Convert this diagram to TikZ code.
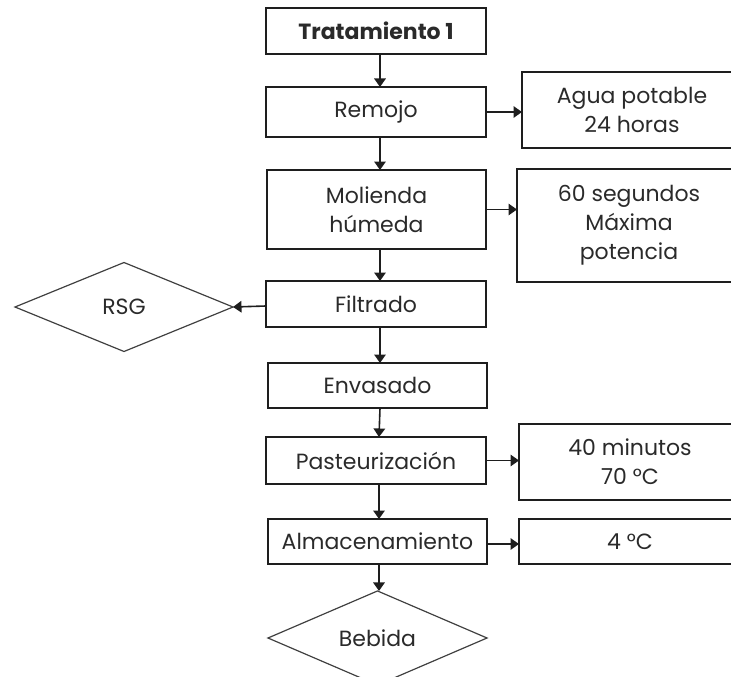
\documentclass[tikz,border=0pt]{standalone}
\usepackage{fontspec}
\setmainfont{Poppins}
\usetikzlibrary{shapes.geometric,arrows.meta}
\definecolor{ink}{HTML}{1E1E1E}
\definecolor{txt}{HTML}{2A2A2A}
\begin{document}
\begin{tikzpicture}[x=1pt,y=-1pt,
  every node/.style={inner sep=0pt,outer sep=0pt,text=txt,
    font=\fontsize{22}{29}\selectfont,align=center},
  stepbox/.style={draw=ink,line width=1.6pt,rectangle},
  infobox/.style={draw=ink,line width=1.6pt,rectangle},
  endpoint/.style={draw=ink!85,line width=1.2pt,diamond},
  flow/.style={draw=ink,line width=1.6pt,-{Triangle[length=8.5pt,width=11.5pt]}},
  down/.style={flow,xshift=3.5pt}]
\useasboundingbox (0,0) rectangle (731,677);
% main column
\node[stepbox,minimum width=220pt,minimum height=46pt,font=\fontsize{22}{29}\selectfont\bfseries] (t1) at (376,31) {Tratamiento 1};
\node[stepbox,minimum width=220pt,minimum height=50pt] (rem) at (376,112) {Remojo};
\node[stepbox,minimum width=219pt,minimum height=79pt] (mol) at (376.5,209.5) {Molienda\\húmeda};
\node[stepbox,minimum width=220pt,minimum height=46pt] (fil) at (376,304) {Filtrado};
\node[stepbox,minimum width=219pt,minimum height=45pt] (env) at (377.5,385.5) {Envasado};
\node[stepbox,minimum width=220pt,minimum height=47pt] (pas) at (376,460.5) {Pasteurización};
\node[stepbox,minimum width=219pt,minimum height=45pt] (alm) at (377.5,541.5) {Almacenamiento};
\node[endpoint,minimum width=219pt,minimum height=76pt] (beb) at (377.5,638) {Bebida};
% side conditions
\node[infobox,minimum width=220pt,minimum height=76pt] (agua) at (632,110) {Agua potable\\24 horas};
\node[infobox,minimum width=224pt,minimum height=113pt] (seg) at (629,225.5) {60 segundos\\Máxima\\potencia};
\node[infobox,minimum width=222pt,minimum height=76pt] (min) at (630,462) {40 minutos\\70 °C};
\node[infobox,minimum width=222pt,minimum height=45pt] (cua) at (630,541.5) {4 °C};
% by-product
\node[endpoint,minimum width=218pt,minimum height=89pt] (rsg) at (124,307) {RSG};
% exit points slightly below the box middles
\coordinate (almout) at ([yshift=-2.5pt]alm.east);
\coordinate (filout) at ([yshift=-2pt]fil.west);
% connectors
\draw[flow] ([xshift=4pt]t1.south) -- ([xshift=4pt]rem.north);
\draw[flow] ([xshift=4pt]rem.south) -- ([xshift=3.5pt]mol.north);
\draw[flow] ([xshift=3.5pt]mol.south) -- ([xshift=4pt]fil.north);
\draw[flow] ([xshift=4pt]fil.south) -- ([xshift=2.5pt]env.north);
\draw[flow] ([xshift=2.5pt]env.south) -- ([xshift=3pt]pas.north);
\draw[flow] ([xshift=3pt]pas.south) -- ([xshift=1.5pt]alm.north);
\draw[flow] ([xshift=1.5pt]alm.south) -- ([xshift=1.5pt]beb.north);
\draw[flow] (rem.east) -- (agua.west |- rem.east);
\draw[flow] (mol.east) -- (seg.west |- mol.east);
\draw[flow] (pas.east) -- (min.west |- pas.east);
\draw[flow] (almout) -- (cua.west |- almout);
\draw[flow] (filout) -- (rsg.east);
\end{tikzpicture}
\end{document}
